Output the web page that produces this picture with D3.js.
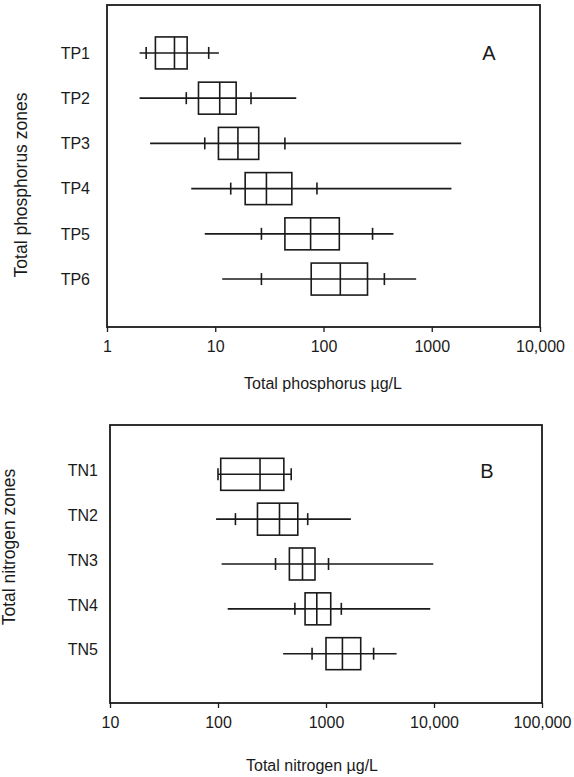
<!DOCTYPE html>
<html lang="en">
<head>
    <meta charset="UTF-8">
    <title>Total phosphorus and nitrogen zones</title>
    <style>
        body {
            margin: 0;
            background-color: #fff;
        }
        svg {
            display: block;
            font-family: "Liberation Sans", Arial, sans-serif;
        }
    </style>
</head>
<body>
    <svg width="574" height="777"></svg>

    <script src="https://cdnjs.cloudflare.com/ajax/libs/d3/7.8.5/d3.min.js"></script>
    <script>
        // Panel A - total phosphorus (ug/L)
        const tpZones = ["TP1", "TP2", "TP3", "TP4", "TP5", "TP6"];
        const tpMin = [2.0, 2.0, 2.5, 6.0, 8.0, 11.6];
        const tpP10 = [2.3, 5.4, 8.0, 13.9, 26.7, 26.7];
        const tpQ1 = [2.8, 7.0, 10.7, 18.9, 44, 77];
        const tpMed = [4.2, 11.0, 16.2, 29.7, 76, 143];
        const tpQ3 = [5.5, 15.6, 25.2, 51, 140, 255];
        const tpP90 = [8.7, 21.4, 44, 87, 284, 365];
        const tpMax = [10.8, 56, 1870, 1520, 443, 718];
        const tpTicks = [1, 10, 100, 1000, 10000];
        const tpTickLabels = ["1", "10", "100", "1000", "10,000"];

        // Panel B - total nitrogen (ug/L)
        const tnZones = ["TN1", "TN2", "TN3", "TN4", "TN5"];
        const tnMin = [100, 96, 108, 123, 401];
        const tnP10 = [100, 145, 341, 515, 743];
        const tnQ1 = [106, 232, 458, 640, 1000];
        const tnMed = [245, 371, 606, 822, 1419];
        const tnQ3 = [407, 548, 791, 1106, 2096];
        const tnP90 = [476, 677, 1055, 1386, 2760];
        const tnMax = [480, 1700, 9840, 9240, 4508];
        const tnTicks = [10, 100, 1000, 10000, 100000];
        const tnTickLabels = ["10", "100", "1000", "10,000", "100,000"];

        const svg = d3.select("svg");
        const ink = "#1a1a1a";

        function panel(opt) {
            const g = svg.append("g");
            const x = d3.scaleLog().domain(opt.domain).range([opt.left, opt.right]);
            const y = d3.scalePoint().domain(opt.zones).range([opt.top, opt.bottom]).padding(opt.pad);

            const rows = opt.zones.map((z, i) => ({
                zone: z, min: opt.min[i], p10: opt.p10[i], q1: opt.q1[i],
                med: opt.med[i], q3: opt.q3[i], p90: opt.p90[i], max: opt.max[i]
            }));

            // frame
            g.append("rect")
                .attr("x", opt.left).attr("y", opt.top)
                .attr("width", opt.right - opt.left).attr("height", opt.bottom - opt.top)
                .attr("fill", "none").attr("stroke", ink).attr("stroke-width", 1.8);

            // x axis
            const ax = g.append("g")
                .attr("transform", `translate(0,${opt.bottom})`)
                .call(d3.axisBottom(x).tickValues(opt.ticks)
                    .tickFormat((d, i) => opt.tickLabels[i]).tickSize(5).tickPadding(9));
            ax.select(".domain").remove();
            ax.selectAll("line").attr("stroke", ink).attr("stroke-width", 1.3);
            ax.selectAll("text").attr("fill", ink).attr("font-size", 16).attr("font-family", null);

            // zone labels
            g.selectAll("text.zone")
                .data(rows).enter().append("text")
                .attr("class", "zone")
                .attr("x", opt.left - opt.labelGap)
                .attr("y", d => y(d.zone) - opt.labelLift)
                .attr("dy", "0.36em")
                .attr("text-anchor", "end")
                .attr("font-size", 16)
                .attr("fill", ink)
                .text(d => d.zone);

            const bh = 32, th = 12;
            const box = g.selectAll("g.box").data(rows).enter().append("g")
                .attr("class", "box")
                .attr("stroke", ink).attr("stroke-width", 1.6).attr("fill", "none");

            // whisker, 10th / 90th percentile marks, quartile box, median
            box.append("line")
                .attr("x1", d => x(d.min)).attr("x2", d => x(d.max))
                .attr("y1", d => y(d.zone)).attr("y2", d => y(d.zone));
            box.append("line")
                .attr("x1", d => x(d.p10)).attr("x2", d => x(d.p10))
                .attr("y1", d => y(d.zone) - th / 2).attr("y2", d => y(d.zone) + th / 2);
            box.append("line")
                .attr("x1", d => x(d.p90)).attr("x2", d => x(d.p90))
                .attr("y1", d => y(d.zone) - th / 2).attr("y2", d => y(d.zone) + th / 2);
            box.append("rect")
                .attr("x", d => x(d.q1)).attr("width", d => x(d.q3) - x(d.q1))
                .attr("y", d => y(d.zone) - bh / 2).attr("height", bh)
                .attr("fill", "#fff");
            box.append("line")
                .attr("x1", d => x(d.q1)).attr("x2", d => x(d.q3))
                .attr("y1", d => y(d.zone)).attr("y2", d => y(d.zone));
            box.append("line")
                .attr("x1", d => x(d.med)).attr("x2", d => x(d.med))
                .attr("y1", d => y(d.zone) - bh / 2).attr("y2", d => y(d.zone) + bh / 2);

            // panel letter
            g.append("text")
                .attr("x", opt.letterX).attr("y", y(opt.zones[0]) - opt.labelLift)
                .attr("dy", "0.36em")
                .attr("text-anchor", "middle")
                .attr("font-size", 20).attr("fill", ink)
                .text(opt.letter);

            // axis titles
            g.append("text")
                .attr("x", opt.xTitleX).attr("y", opt.xTitleY)
                .attr("text-anchor", "middle").attr("font-size", 16).attr("fill", ink)
                .text(opt.xTitle);
            g.append("text")
                .attr("transform", `translate(${opt.yTitleX},${opt.yTitleY}) rotate(-90)`)
                .attr("text-anchor", "middle").attr("dy", "0.36em")
                .attr("font-size", 17.5).attr("fill", ink)
                .text(opt.yTitle);
        }

        panel({
            zones: tpZones, min: tpMin, p10: tpP10, q1: tpQ1, med: tpMed, q3: tpQ3, p90: tpP90, max: tpMax,
            domain: [1, 10000], ticks: tpTicks, tickLabels: tpTickLabels,
            left: 107, right: 540, top: 5, bottom: 327, pad: 1.06,
            labelGap: 17, labelLift: 0,
            letter: "A", letterX: 489,
            xTitle: "Total phosphorus \u00b5g/L", xTitleX: 323, xTitleY: 389,
            yTitle: "Total phosphorus zones", yTitleX: 21, yTitleY: 185
        });

        panel({
            zones: tnZones, min: tnMin, p10: tnP10, q1: tnQ1, med: tnMed, q3: tnQ3, p90: tnP90, max: tnMax,
            domain: [10, 100000], ticks: tnTicks, tickLabels: tnTickLabels,
            left: 110, right: 542, top: 425, bottom: 703, pad: 1.1,
            labelGap: 12, labelLift: 4,
            letter: "B", letterX: 487,
            xTitle: "Total nitrogen \u00b5g/L", xTitleX: 312, xTitleY: 771,
            yTitle: "Total nitrogen zones", yTitleX: 9, yTitleY: 547
        });
    </script>
</body>
</html>
